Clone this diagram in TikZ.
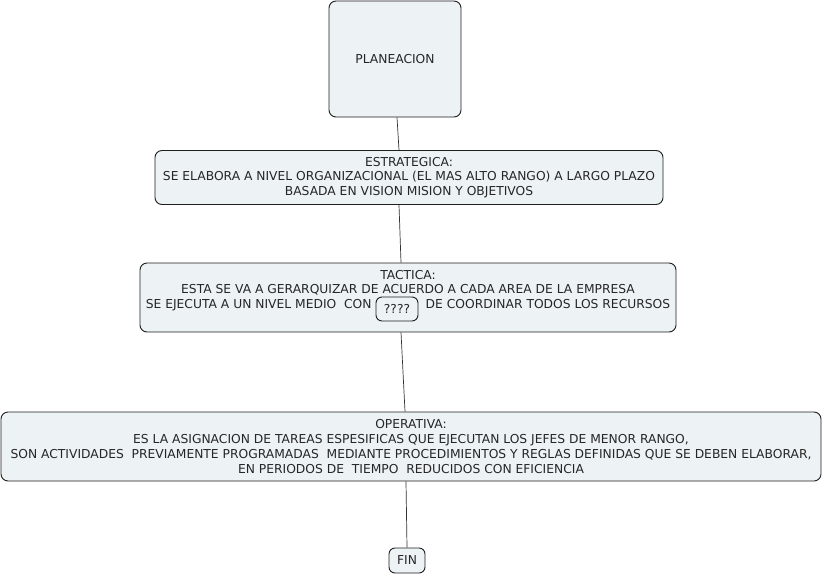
\documentclass[tikz,border=0pt]{standalone}
\usepackage{fontspec}
\setmainfont{DejaVu Sans}
\usepackage{tikz}
\usepackage{xcolor}

\definecolor{boxfill}{RGB}{237,243,245}
\definecolor{boxline}{RGB}{30,30,30}

\tikzset{
  mapbox/.style={draw=boxline, fill=boxfill, rounded corners=7pt, line width=0.9pt, inner sep=0pt, font=\fontsize{12.3}{14.6}\selectfont, text=black!85},
  maptext/.style={inner sep=0pt, align=center, font=\fontsize{12.3}{14.6}\selectfont, text=black!85},
  link/.style={draw=black!80, line width=0.7pt}
}

\begin{document}
\begin{tikzpicture}[x=1pt,y=1pt,yscale=-1,xscale=1]
\path[use as bounding box] (0,0) rectangle (824,576);

% Boxes
\node[mapbox, minimum width=132, minimum height=116] (plan) at (395,59) {PLANEACION};
\node[mapbox, minimum width=508, minimum height=54, align=center] (estr) at (409,177.5)
  {ESTRATEGICA:\\SE ELABORA A NIVEL ORGANIZACIONAL (EL MAS ALTO RANGO) A LARGO PLAZO\\BASADA EN VISION MISION Y OBJETIVOS};
\node[mapbox, minimum width=536, minimum height=69] (tact) at (408,297.5) {};
\node[maptext] (tacttxt) at (408,290.5)
  {TACTICA:\\ESTA SE VA A GERARQUIZAR DE ACUERDO A CADA AREA DE LA EMPRESA\\SE EJECUTA A UN NIVEL MEDIO\ \ CON\hspace{4.4em}DE COORDINAR TODOS LOS RECURSOS};
\node[mapbox, rounded corners=6pt, minimum width=42, minimum height=24] (ques) at (397,309) {????};
\node[mapbox, minimum width=820, minimum height=69, align=center, font=\fontsize{12.3}{15}\selectfont] (oper) at (411,446.5)
  {OPERATIVA:\\ES LA ASIGNACION DE TAREAS ESPESIFICAS QUE EJECUTAN LOS JEFES DE MENOR RANGO,\\SON ACTIVIDADES\ \ PREVIAMENTE PROGRAMADAS\ \ MEDIANTE PROCEDIMIENTOS Y REGLAS DEFINIDAS QUE SE DEBEN ELABORAR,\\EN PERIODOS DE\ \ TIEMPO\ \ REDUCIDOS CON EFICIENCIA};
\node[mapbox, rounded corners=6pt, minimum width=36, minimum height=25] (fin) at (407,560.5) {FIN};

% Connectors
\draw[link] ([xshift=2]plan.south) -- ([xshift=-10]estr.north);
\draw[link] ([xshift=-10]estr.south) -- ([xshift=-7]tact.north);
\draw[link] ([xshift=-7]tact.south) -- ([xshift=-6]oper.north);
\draw[link] ([xshift=-5]oper.south) -- (fin.north);

\end{tikzpicture}
\end{document}
